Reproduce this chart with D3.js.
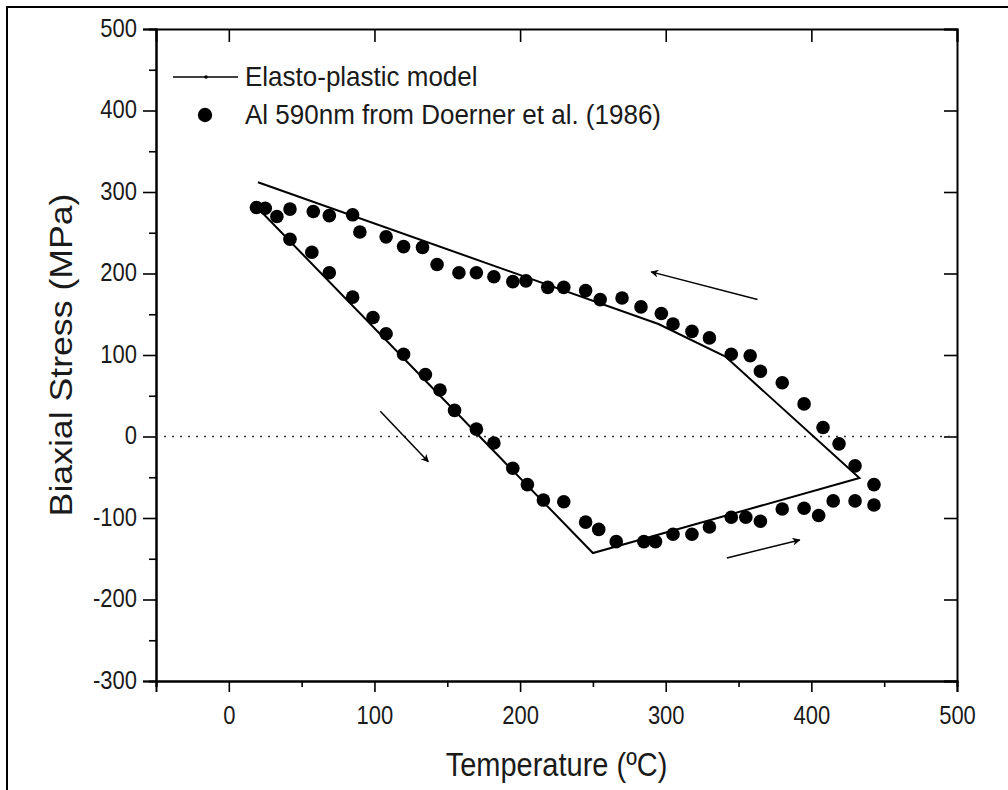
<!DOCTYPE html>
<html>
<head>
<meta charset="utf-8">
<script src="https://cdn.jsdelivr.net/npm/d3@7"></script>
<style>
  body { margin: 0; background: #fff; }
  svg { display: block; font-family: "Liberation Sans", Arial, sans-serif; }
</style>
</head>
<body>
<script>
var expTemp = [19, 25, 33, 42, 58, 69, 85, 90, 108, 120, 133, 143,
	158, 170, 182, 195, 204, 219, 230, 245, 255, 270, 283, 297, 305, 318, 330, 345,
	358, 365, 380, 395, 408, 419, 430, 443,
	443, 430, 415, 405, 395, 380, 365, 355, 345, 330, 318, 305, 293, 285, 266,
	254, 245, 230, 216, 205, 195, 182, 170, 155, 145, 135, 120, 108, 99, 85, 69, 57, 42];
var expStress = [281, 280, 270, 279, 276, 271, 272, 251, 245, 233, 232, 211,
	201, 201, 196, 190, 191, 183, 183, 179, 168, 170, 159, 151, 138, 129, 121, 101,
	99, 80, 66, 40, 11, -9, -36, -59,
	-84, -79, -79, -97, -88, -89, -104, -99, -99, -111, -120, -120, -129, -129, -129,
	-114, -105, -80, -78, -59, -39, -8, 9, 32, 57, 76, 101, 126, 146, 171, 201, 226, 242];

// elasto-plastic model polyline
var modelTemp = [20, 250, 433, 341, 295, 20];
var modelStress = [280, -143, -51, 98, 138, 312];

// direction arrows [x0, y0, x1, y1] in data units
var arrows = [
	[104, 31, 137, -31],
	[342, -149, 392, -127],
	[363, 168, 290, 202]
];

var xMajor = [0, 100, 200, 300, 400, 500];
var xMinor = [-50, 50, 150, 250, 350, 450];
var yMajor = [-300, -200, -100, 0, 100, 200, 300, 400, 500];
var yMinor = [-250, -150, -50, 50, 150, 250, 350, 450];

var legendLabels = ["Elasto-plastic model", "Al 590nm from Doerner et al. (1986)"];

var width = 1008, height = 790;
var plotLeft = 156, plotRight = 957, plotTop = 29, plotBottom = 681;

var svg = d3.select("body").append("svg")
	.attr("width", width)
	.attr("height", height);

// outer frame of the figure
svg.append("rect")
	.attr("x", 7).attr("y", 7)
	.attr("width", 1020).attr("height", 820)
	.attr("fill", "none")
	.attr("stroke", "#000")
	.attr("stroke-width", 2);

var x = d3.scaleLinear().domain([-50, 500]).range([plotLeft, plotRight]);
var y = d3.scaleLinear().domain([-300, 500]).range([plotBottom, plotTop]);

var tickFont = 22;
var stretch = 1.15; // the original figure is a bit taller than wide
var plain = d => String(d); // keep ascii hyphen for negatives

var styleAxis = g => {
	g.select(".domain").attr("stroke", "#000").attr("stroke-width", 2);
	g.selectAll(".tick line").attr("stroke", "#000").attr("stroke-width", 1.6);
	g.selectAll(".tick text")
		.attr("fill", "#1a1a1a")
		.style("font-size", tickFont + "px")
		.style("font-family", "'Liberation Sans', Arial, sans-serif");
}

// bottom axis
svg.append("g")
	.attr("transform", "translate(0," + plotBottom + ")")
	.call(d3.axisBottom(x).tickValues(xMinor).tickSize(6).tickFormat(""))
	.call(styleAxis);
svg.append("g")
	.attr("transform", "translate(0," + plotBottom + ")")
	.call(d3.axisBottom(x).tickValues(xMajor).tickSize(11).tickPadding(11).tickFormat(plain))
	.call(styleAxis)
	.selectAll(".tick text")
		.attr("transform", "scale(1," + stretch + ")");

// left axis
svg.append("g")
	.attr("transform", "translate(" + plotLeft + ",0)")
	.call(d3.axisLeft(y).tickValues(yMinor).tickSize(7).tickFormat(""))
	.call(styleAxis);
svg.append("g")
	.attr("transform", "translate(" + plotLeft + ",0)")
	.call(d3.axisLeft(y).tickValues(yMajor).tickSize(13).tickPadding(6).tickFormat(plain))
	.call(styleAxis)
	.selectAll(".tick text")
		.attr("transform", "scale(1," + stretch + ")")
		.attr("dy", (0.32 / stretch) + "em");

// top and right mirror axes, ticks pointing inward
svg.append("g")
	.attr("transform", "translate(0," + plotTop + ")")
	.call(d3.axisBottom(x).tickValues(xMajor).tickSize(13).tickFormat(""))
	.call(styleAxis);
svg.append("g")
	.attr("transform", "translate(" + plotRight + ",0)")
	.call(d3.axisLeft(y).tickValues(yMajor).tickSize(13).tickFormat(""))
	.call(styleAxis);

// zero line
svg.append("line")
	.attr("x1", plotLeft).attr("x2", plotRight)
	.attr("y1", y(0)).attr("y2", y(0))
	.attr("stroke", "#333")
	.attr("stroke-width", 1.6)
	.attr("stroke-dasharray", "2,6");

// axis titles
svg.append("text")
	.attr("transform", "translate(" + ((plotLeft + plotRight) / 2) + ",776) scale(1," + stretch + ")")
	.attr("text-anchor", "middle")
	.style("font-size", "29px")
	.attr("fill", "#1a1a1a")
	.text("Temperature (ºC)");

svg.append("text")
	.attr("transform", "translate(72," + ((plotTop + plotBottom) / 2) + ") scale(1," + stretch + ") rotate(-90)")
	.attr("text-anchor", "middle")
	.style("font-size", "31px")
	.attr("fill", "#1a1a1a")
	.text("Biaxial Stress (MPa)");

// model line
var modelPts = modelTemp.map((t, i) => [t, modelStress[i]]);
var line = d3.line()
	.x(d => x(d[0]))
	.y(d => y(d[1]));

svg.append("path")
	.datum(modelPts)
	.attr("d", line)
	.attr("fill", "none")
	.attr("stroke", "#000")
	.attr("stroke-width", 2)
	.attr("stroke-linejoin", "miter");

// experimental points
var expPts = expTemp.map((t, i) => [t, expStress[i]]);
svg.append("g")
	.selectAll("circle")
	.data(expPts)
	.join("circle")
		.attr("cx", d => x(d[0]))
		.attr("cy", d => y(d[1]))
		.attr("r", 6.8)
		.attr("fill", "#000");

// arrows
svg.append("defs").append("marker")
	.attr("id", "head")
	.attr("viewBox", "0 0 10 10")
	.attr("refX", 9).attr("refY", 5)
	.attr("markerWidth", 10).attr("markerHeight", 8)
	.attr("markerUnits", "userSpaceOnUse")
	.attr("orient", "auto")
	.append("path")
		.attr("d", "M0,0 L10,5 L0,10 L3,5 Z")
		.attr("fill", "#000");

svg.append("g")
	.selectAll("line")
	.data(arrows)
	.join("line")
		.attr("x1", d => x(d[0]))
		.attr("y1", d => y(d[1]))
		.attr("x2", d => x(d[2]))
		.attr("y2", d => y(d[3]))
		.attr("stroke", "#000")
		.attr("stroke-width", 1.5)
		.attr("marker-end", "url(#head)");

// legend
var legend = svg.append("g");
legend.append("line")
	.attr("x1", 173).attr("x2", 238)
	.attr("y1", 77).attr("y2", 77)
	.attr("stroke", "#000")
	.attr("stroke-width", 1.5);
legend.append("circle")
	.attr("cx", 206).attr("cy", 77).attr("r", 1.8)
	.attr("fill", "#000");
legend.append("circle")
	.attr("cx", 205).attr("cy", 115).attr("r", 7.2)
	.attr("fill", "#000");
legend.selectAll("text")
	.data(legendLabels)
	.join("text")
		.attr("transform", (d, i) => "translate(245," + (86 + i * 38) + ") scale(1,1.08)")
		.style("font-size", "26px")
		.attr("fill", "#1a1a1a")
		.text(d => d);
</script>
</body>
</html>
